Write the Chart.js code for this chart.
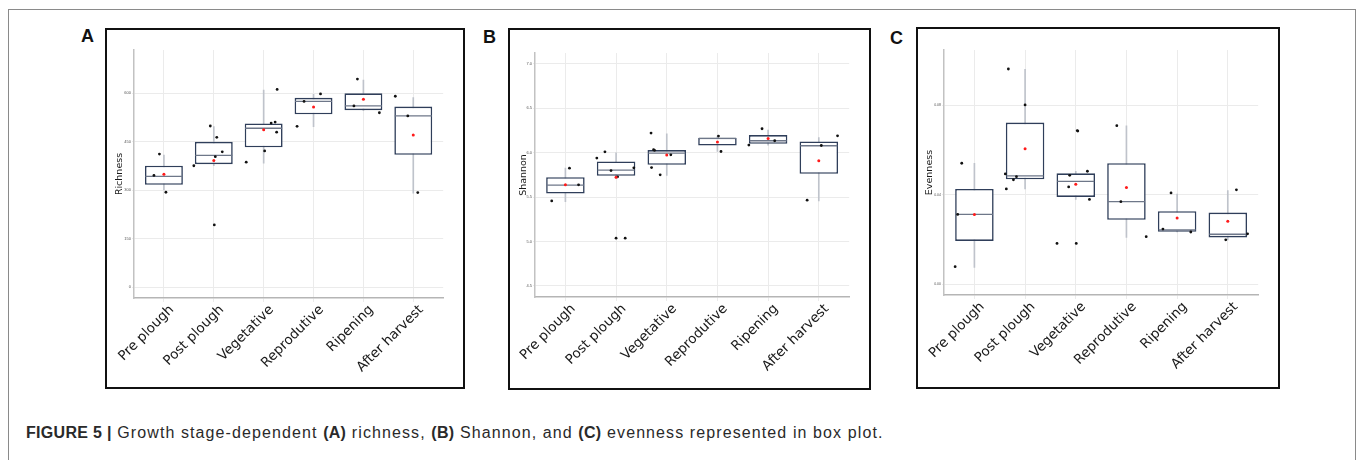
<!DOCTYPE html>
<html>
<head>
<meta charset="utf-8">
<script src="https://cdn.jsdelivr.net/npm/chart.js@4.4.1/dist/chart.umd.min.js"></script>
<style>
body { margin: 0; background: #fff; width: 1358px; height: 460px; overflow: hidden; position: relative; font-family: "Liberation Sans", Arial, sans-serif; }
.outer { position: absolute; left: 8px; top: 9px; width: 1346px; height: 470px; border: 1.5px solid #8a8a8a; border-bottom: none; }
.frame { position: absolute; border: 2px solid #111; }
.frame canvas { display: block; }
.lab { position: absolute; font-weight: bold; font-size: 18px; line-height: 18px; color: #111; }
.caption { position: absolute; left: 26px; top: 425px; font-size: 16px; line-height: 15px; color: #2a2a2a; white-space: nowrap; letter-spacing: 1.1px; }
.caption b { letter-spacing: 0.3px; }
</style>
</head>
<body>
<div class="outer"></div>

<div class="lab" style="left:81px;top:27px">A</div>
<div class="frame" style="left:105px;top:28px;width:356px;height:357px"><canvas id="chartA" width="356" height="357"></canvas></div>

<div class="lab" style="left:483px;top:28px">B</div>
<div class="frame" style="left:508px;top:28px;width:359px;height:358px"><canvas id="chartB" width="359" height="358"></canvas></div>

<div class="lab" style="left:890px;top:29px">C</div>
<div class="frame" style="left:916px;top:27px;width:360px;height:358px"><canvas id="chartC" width="360" height="358"></canvas></div>

<div class="caption"><b>FIGURE 5 |</b> Growth stage-dependent <b>(A)</b> richness, <b>(B)</b> Shannon, and <b>(C)</b> evenness represented in box plot.</div>

<script>
// categories
const stages = ['Pre plough', 'Post plough', 'Vegetative', 'Reprodutive', 'Ripening', 'After harvest'];
const stageTicks = [0, 1, 2, 3, 4, 5];

// (A) richness
const richTicks = [0, 150, 300, 450, 600];
const richLow  = [300, 375, 383, 496, 545, 290];
const richQ1   = [316, 380, 432, 534, 547, 409];
const richMed  = [342, 407, 491, 574, 560, 529];
const richQ3   = [375, 449, 506, 585, 599, 558];
const richHigh = [408, 496, 609, 596, 640, 586];
const richMean = [349, 391, 486, 557, 581, 470];
const richPts = [
    [345, 411, 293],
    [375, 498, 463, 418, 403, 192],
    [386, 421, 507, 510, 479, 611],
    [497, 597, 574],
    [643, 539, 560],
    [590, 292, 529]
];
const richJit = [
    [-0.2, -0.09, 0.04],
    [-0.4, -0.07, 0.06, 0.17, 0.03, 0.01],
    [-0.35, 0.02, 0.15, 0.23, 0.26, 0.27],
    [-0.33, 0.14, -0.19],
    [-0.12, 0.32, -0.19],
    [-0.36, 0.09, -0.11]
];

// (B) Shannon
const shanTicks = [4.5, 5.0, 5.5, 6.0, 6.5, 7.0];
const shanLow  = [5.449, 5.71, 5.742, 6.012, 6.084, 5.457];
const shanQ1   = [5.540, 5.739, 5.863, 6.080, 6.099, 5.761];
const shanMed  = [5.634, 5.803, 5.994, 6.160, 6.133, 6.077];
const shanQ3   = [5.724, 5.900, 6.028, 6.167, 6.197, 6.125];
const shanHigh = [5.825, 5.998, 6.212, 6.186, 6.253, 6.17];
const shanMean = [5.637, 5.724, 5.972, 6.118, 6.159, 5.908];
const shanPts = [
    [5.457, 5.825, 5.637],
    [5.938, 6.009, 5.798, 5.727, 5.829, 5.037, 5.037],
    [6.219, 6.032, 6.025, 5.832, 5.75, 5.975],
    [6.186, 6.012],
    [6.268, 6.084, 6.133],
    [6.080, 6.189, 5.465]
];
const shanJit = [
    [-0.27, 0.08, 0.26],
    [-0.38, -0.22, -0.1, 0.03, 0.35, 0, 0.18],
    [-0.31, -0.26, -0.24, -0.3, -0.13, 0.08],
    [0.02, 0.07],
    [-0.12, -0.38, 0.13],
    [0.05, 0.37, -0.23]
];

// (C) evenness
const evenTicks = [0.00, 0.04, 0.08];
const evenLow  = [0.0075, 0.0426, 0.0379, 0.0209, 0.0233, 0.0198];
const evenQ1   = [0.0193, 0.0469, 0.0390, 0.0288, 0.0234, 0.0209];
const evenMed  = [0.0312, 0.0484, 0.0460, 0.0369, 0.0243, 0.0223];
const evenQ3   = [0.0426, 0.0723, 0.0496, 0.0541, 0.0326, 0.0320];
const evenHigh = [0.0541, 0.0962, 0.0505, 0.0709, 0.0403, 0.0418];
const evenMean = [0.0312, 0.0606, 0.0447, 0.0432, 0.0296, 0.0281];
const evenPts = [
    [0.0541, 0.0312, 0.0078],
    [0.0963, 0.0802, 0.0493, 0.0481, 0.0467, 0.0426],
    [0.0687, 0.0685, 0.0487, 0.0435, 0.0505, 0.0379, 0.0182, 0.0182],
    [0.0709, 0.0369, 0.0212],
    [0.0408, 0.0246, 0.0233],
    [0.0422, 0.0198, 0.0225]
];
const evenJit = [
    [-0.25, -0.33, -0.38],
    [-0.33, 0, -0.39, -0.17, -0.23, -0.37],
    [0.03, 0.04, -0.12, -0.14, 0.23, 0.27, -0.37, 0.01],
    [-0.19, -0.11, 0.39],
    [-0.12, -0.28, 0.27],
    [0.17, -0.04, 0.39]
];

// construit un panneau de box plot
function makePanel(id, title, yMin, yMax, yTicks, decimals, pad, yWidth, xHeight, titlePad, tickSize,
                   low, q1, med, q3, high, mean, pts, jit) {
    const whiskers = low.map((v, i) => ({ x: i, y: [v, high[i]] }));
    const boxes = q1.map((v, i) => ({ x: i, y: [v, q3[i]] }));
    const medians = med.map((v, i) => ({ x: i, y: v }));
    const means = mean.map((v, i) => ({ x: i, y: v }));
    let dots = [];
    pts.forEach((group, i) => {
        group.forEach((v, k) => dots.push({ x: i + jit[i][k], y: v }));
    });

    new Chart(document.getElementById(id), {
        type: 'scatter',
        data: {
            datasets: [
                {
                    type: 'bar', data: whiskers, order: 5, grouped: false,
                    barThickness: 1, backgroundColor: '#bfc3cb', borderWidth: 0
                },
                {
                    type: 'bar', data: boxes, order: 4, grouped: false,
                    categoryPercentage: 1, barPercentage: 0.76,
                    backgroundColor: '#ffffff', borderColor: '#2f3e5a',
                    borderWidth: 1.6, borderSkipped: false
                },
                {
                    data: medians, order: 3, pointStyle: 'line', pointRadius: 18.5,
                    borderColor: '#6e7789', borderWidth: 1.3
                },
                {
                    data: dots, order: 2, pointRadius: 1.4, pointBorderWidth: 0,
                    backgroundColor: '#111111'
                },
                {
                    data: means, order: 1, pointRadius: 1.5, pointBorderWidth: 0,
                    backgroundColor: '#ff1a1a'
                }
            ]
        },
        options: {
            responsive: false,
            animation: false,
            devicePixelRatio: 1,
            layout: { padding: pad },
            plugins: { legend: { display: false }, tooltip: { enabled: false } },
            scales: {
                x: {
                    type: 'linear', min: -0.6, max: 5.6, offset: false,
                    afterBuildTicks: (scale) => { scale.ticks = stageTicks.map(v => ({ value: v })); },
                    afterFit: (scale) => { scale.height = xHeight; },
                    grid: { color: '#ebebeb', lineWidth: 1, tickLength: 4, offset: false },
                    border: { color: '#b5b5b5', width: 1.5 },
                    ticks: {
                        autoSkip: false, maxRotation: 45, minRotation: 45, padding: 0, labelOffset: 8,
                        color: '#1a1a1a', font: { family: 'DejaVu Sans', size: 13.5 },
                        callback: (v) => stages[v]
                    }
                },
                y: {
                    type: 'linear', min: yMin, max: yMax,
                    afterBuildTicks: (scale) => { scale.ticks = yTicks.map(v => ({ value: v })); },
                    afterFit: (scale) => { scale.width = yWidth; },
                    grid: { color: '#ebebeb', lineWidth: 1, tickLength: 2 },
                    border: { color: '#c2c2c2', width: 1.5 },
                    title: {
                        display: true, text: title, color: '#1a1a1a', padding: { top: titlePad, bottom: 0 },
                        font: { family: 'DejaVu Sans', size: 9.5 }
                    },
                    ticks: {
                        padding: 1, color: '#555555', font: { family: 'Liberation Sans', size: tickSize },
                        callback: (v) => v.toFixed(decimals)
                    }
                }
            }
        }
    });
}

makePanel('chartA', 'Richness', -34, 733, richTicks, 0, { top: 20, right: 9, left: 0, bottom: 0 }, 27, 89, 6.5, 4,
    richLow, richQ1, richMed, richQ3, richHigh, richMean, richPts, richJit);
makePanel('chartB', 'Shannon', 4.376, 7.12, shanTicks, 1, { top: 23, right: 11, left: 0, bottom: 0 }, 25, 91, 7.5, 4,
    shanLow, shanQ1, shanMed, shanQ3, shanHigh, shanMean, shanPts, shanJit);
makePanel('chartC', 'Evenness', -0.0049, 0.1048, evenTicks, 2, { top: 21, right: 14, left: 0, bottom: 0 }, 26, 92, 5.5, 3.5,
    evenLow, evenQ1, evenMed, evenQ3, evenHigh, evenMean, evenPts, evenJit);
</script>
</body>
</html>
